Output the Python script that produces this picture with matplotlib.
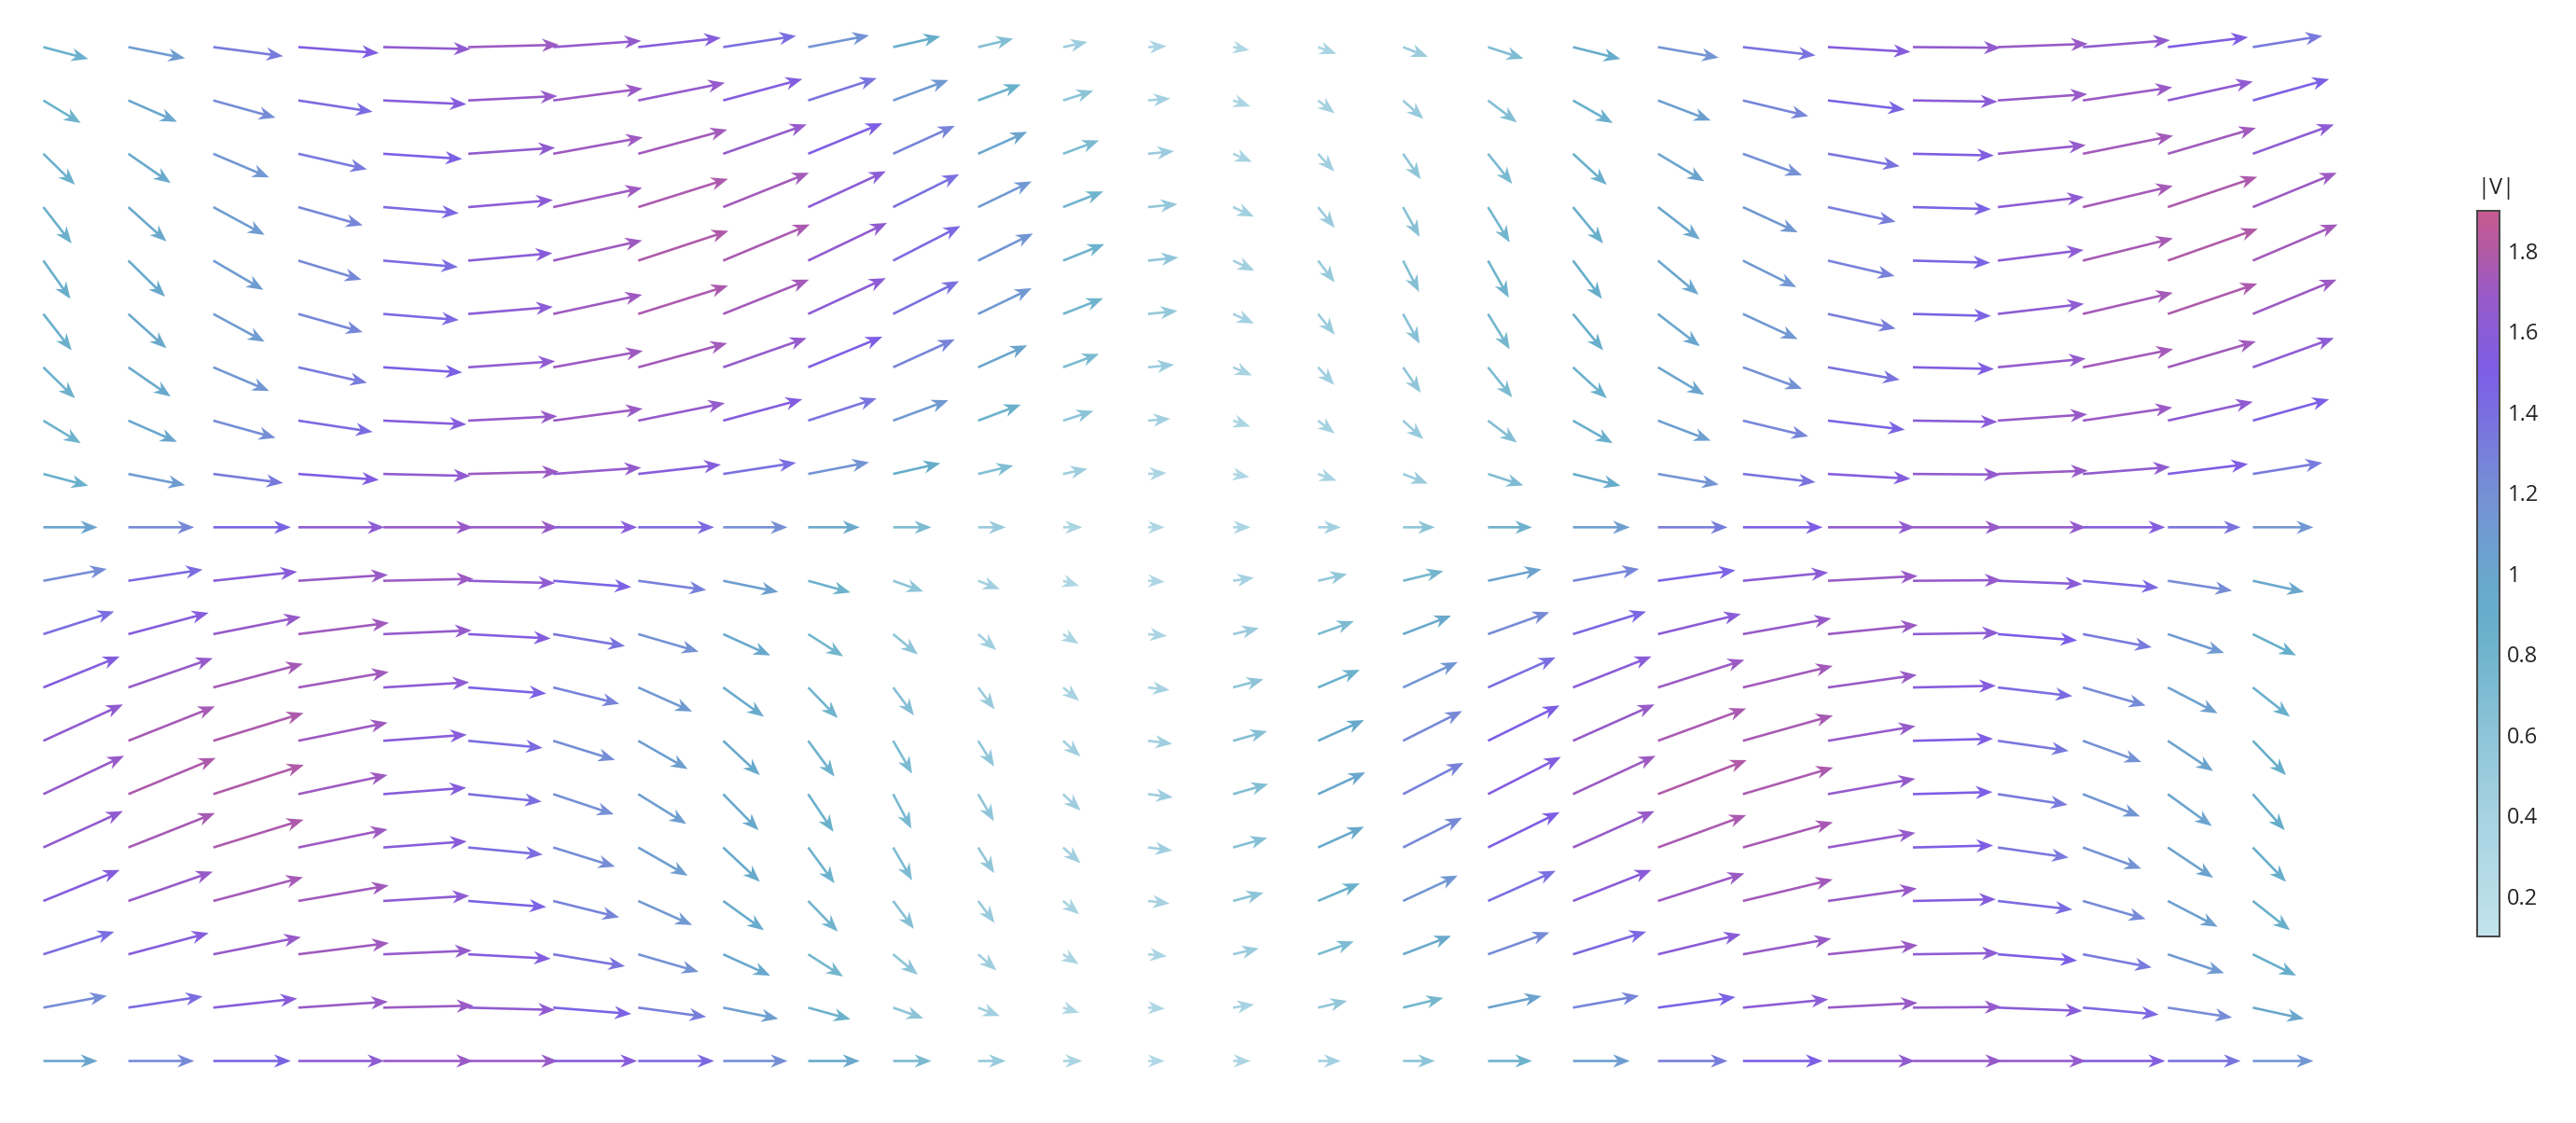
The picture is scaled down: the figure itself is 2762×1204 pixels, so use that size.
import numpy as np
import matplotlib
matplotlib.use('Agg')
import matplotlib.pyplot as plt
from matplotlib.colors import LinearSegmentedColormap, Normalize

plt.rcParams['font.family'] = ['Open Sans', 'DejaVu Sans']

# сетка точек
x_vals = [0.0, 0.355, 0.71, 1.065, 1.42, 1.775, 2.13, 2.485, 2.84, 3.195, 3.55, 3.905, 4.26, 4.615,
          4.97, 5.325, 5.68, 6.035, 6.39, 6.745, 7.1, 7.455, 7.81, 8.165, 8.52, 8.875, 9.23]
y_vals = [0.0, 0.314, 0.628, 0.942, 1.257, 1.571, 1.885, 2.199, 2.513, 2.827, 3.142, 3.456, 3.77,
          4.084, 4.398, 4.712, 5.027, 5.341, 5.655, 5.969]

# по столбцам: u на горизонтальных рядах, сдвиг u и наклон v
u_mid = [1.02, 1.24, 1.46, 1.62, 1.69, 1.69, 1.58, 1.43, 1.21, 0.97, 0.72, 0.52, 0.36, 0.31,
         0.33, 0.43, 0.60, 0.83, 1.07, 1.31, 1.50, 1.64, 1.68, 1.66, 1.55, 1.37, 1.14]
u_lean = [0.70, 0.66, 0.53, 0.34, 0.11, -0.14, -0.37, -0.55, -0.67, -0.70, -0.64, -0.51, -0.31, -0.07,
          0.18, 0.40, 0.58, 0.68, 0.70, 0.63, 0.48, 0.27, 0.03, -0.21, -0.43, -0.60, -0.69]
v_amp = [0.72, 0.68, 0.55, 0.36, 0.12, -0.14, -0.38, -0.56, -0.68, -0.71, -0.65, -0.51, -0.31, -0.06,
         0.19, 0.41, 0.59, 0.70, 0.72, 0.64, 0.50, 0.29, 0.04, -0.20, -0.42, -0.60, -0.68]

# по рядам (снизу вверх)
row_keep = [1, 0.97, 0.89, 0.80, 0.72, 0.70, 0.72, 0.80, 0.89, 0.97,
            1, 0.97, 0.89, 0.80, 0.72, 0.70, 0.72, 0.80, 0.89, 0.97]
row_lean = [0, 0.25, 0.45, 0.60, 0.69, 0.72, 0.69, 0.60, 0.45, 0.25,
            0, -0.25, -0.45, -0.60, -0.69, -0.72, -0.69, -0.60, -0.45, -0.25]
row_tilt = [0, 0.31, 0.59, 0.81, 0.95, 1.0, 0.95, 0.81, 0.59, 0.31,
            0, -0.31, -0.59, -0.81, -0.95, -1.0, -0.95, -0.81, -0.59, -0.31]

cbar_ticks = [0.2, 0.4, 0.6, 0.8, 1.0, 1.2, 1.4, 1.6, 1.8]

# таблицы для quiver
X, Y = np.meshgrid(x_vals, y_vals)
U = 1 + np.outer(row_keep, np.array(u_mid) - 1) + np.outer(row_lean, u_lean)
V = np.outer(row_tilt, v_amp)
M = np.hypot(U, V)

# цветовая шкала
stops = [(0.10, '#c2e3ec'), (0.20, '#b8dde8'), (0.40, '#a6d2e2'), (0.60, '#8dc4d8'),
         (0.80, '#70b4cd'), (0.90, '#66aecb'), (1.00, '#6aa6cd'), (1.20, '#7590d5'),
         (1.40, '#7a6ee0'), (1.50, '#7c5ee6'), (1.60, '#8a5cd8'), (1.70, '#9a5ac6'),
         (1.80, '#b25aa5'), (1.90, '#c65a92')]
vmin, vmax = 0.1, 1.9
cmap = LinearSegmentedColormap.from_list('vmag', [((v - vmin) / (vmax - vmin), c) for v, c in stops])
norm = Normalize(vmin, vmax)

W, H = 2762, 1204
fig = plt.figure(figsize=(W / 100, H / 100), dpi=100)
ax = fig.add_axes([0, 0, 1, 1])
ax.axis('off')

# привязка сетки к пикселям
px_x0, px_x1 = 46.5, 2415.5
px_y0, px_y1 = 66.5, 1153.5
kx = (x_vals[-1] - x_vals[0]) / (px_x1 - px_x0)
ky = (y_vals[-1] - y_vals[0]) / (px_y1 - px_y0)
ax.set_xlim(x_vals[0] - px_x0 * kx, x_vals[0] + (W - px_x0) * kx)
ax.set_ylim(y_vals[0] - px_y0 * ky, y_vals[0] + (H - px_y0) * ky)

q = ax.quiver(X, Y, U, V, M, cmap=cmap, norm=norm, angles='uv', pivot='tail',
              units='dots', width=2.6, scale_units='dots', scale=1 / 57,
              headwidth=5.5, headlength=7, headaxislength=5.2)

cax = fig.add_axes([2656 / W, (H - 1004) / H, 24 / W, 778.5 / H])
cb = fig.colorbar(q, cax=cax, ticks=cbar_ticks)
cb.ax.set_yticklabels([f'{t:g}' for t in cbar_ticks])
cb.ax.tick_params(length=0, pad=6, labelsize=17, labelcolor='#242424')
cb.outline.set_edgecolor('#444444')
cb.outline.set_linewidth(1.4)
fig.text(2656 / W, (H - 214) / H, '|V|', ha='left', va='bottom', fontsize=17, color='#242424')

fig.savefig('out.png', dpi=100)
